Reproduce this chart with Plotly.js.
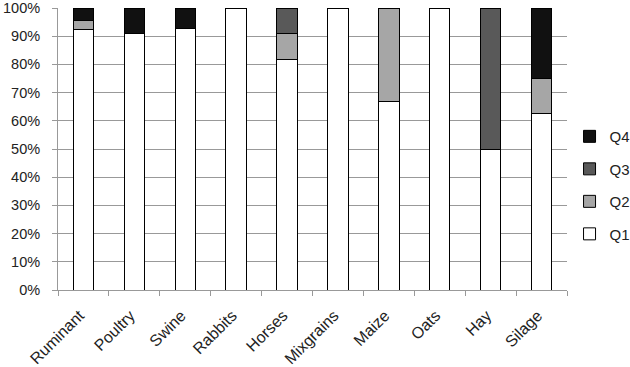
<!DOCTYPE html>
<html>
<head>
<meta charset="utf-8">
<script src="https://cdn.plot.ly/plotly-3.0.1.min.js"></script>
<style>html,body{margin:0;padding:0;background:#fff;}#chart{width:630px;height:367px;}</style>
</head>
<body>
<div id="chart"></div>
<script>
const categories = ["Ruminant","Poultry","Swine","Rabbits","Horses","Mixgrains","Maize","Oats","Hay","Silage"];
const q1 = [92.4, 90.9, 92.7, 100, 81.8, 100, 66.7, 100, 50, 62.5];
const q2 = [3.1, 0, 0, 0, 9.1, 0, 33.3, 0, 0, 12.5];
const q3 = [0, 0, 0, 0, 9.1, 0, 0, 0, 50, 0];
const q4 = [4.5, 9.1, 7.3, 0, 0, 0, 0, 0, 0, 25];
const seriesNames = ["Q1","Q2","Q3","Q4"];
const seriesColors = ["#ffffff","#a6a6a6","#595959","#111111"];
const seriesValues = [q1, q2, q3, q4];

const traces = seriesValues.map((vals, i) => ({
  type: 'bar',
  name: seriesNames[i],
  x: categories,
  y: vals.map(v => v === 0 ? null : v),
  legendgroup: seriesNames[i],
  legendrank: seriesNames.length - i,
  marker: {color: seriesColors[i], line: {color: '#000', width: 1}},
  width: 0.4,
  hoverinfo: 'x+y+name'
}));

const layout = {
  width: 630, height: 367,
  margin: {l: 58, r: 63, t: 8, b: 77, autoexpand: false},
  barmode: 'stack',
  paper_bgcolor: '#fff', plot_bgcolor: '#fff',
  font: {family: 'Liberation Sans, Arial, sans-serif', size: 14, color: '#222'},
  showlegend: true,
  legend: {
    x: 1.005, xanchor: 'left', y: 0.372, yanchor: 'middle',
    traceorder: 'grouped', tracegroupgap: 10,
    font: {size: 15, color: '#222'},
    itemwidth: 30
  },
  xaxis: {
    type: 'category', tickangle: -45, automargin: false,
    showgrid: false, showline: true, linecolor: '#999', linewidth: 1,
    ticks: 'outside', ticklen: 5, tickcolor: '#999', tickson: 'boundaries',
    ticklabelstandoff: 9, ticklabelshift: -4,
    tickfont: {size: 16, color: '#222'},
    fixedrange: true
  },
  yaxis: {
    range: [0, 100], dtick: 10, ticksuffix: '%', automargin: false,
    showgrid: true, gridcolor: '#999', gridwidth: 1,
    showline: true, linecolor: '#999', linewidth: 1,
    ticks: 'outside', ticklen: 5, tickcolor: '#999',
    ticklabelstandoff: 9,
    zeroline: false,
    tickfont: {size: 14.5, color: '#222'},
    fixedrange: true
  },
  bargap: 0.6
};

Plotly.newPlot('chart', traces, layout, {displayModeBar: false, staticPlot: true});
</script>
</body>
</html>
